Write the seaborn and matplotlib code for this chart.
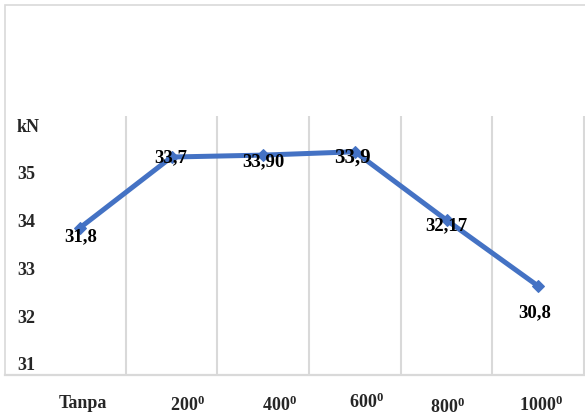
"""Line chart of load (kN) versus treatment temperature."""

import matplotlib
matplotlib.use("Agg")
import matplotlib.pyplot as plt
import matplotlib.transforms as mtransforms
from matplotlib.patches import Rectangle
import pandas as pd
import seaborn as sns

CATEGORIES = ["Tanpa", "200", "400", "600", "800", "1000"]
TICK_LABELS = ["Tanpa", "200$^{0}$", "400$^{0}$", "600$^{0}$", "800$^{0}$", "1000$^{0}$"]
LOAD_KN = [33.85, 35.33, 35.37, 35.44, 34.01, 32.63]
POINT_LABELS = ["31,8", "33,7", "33,90", "33,9", "32,17", "30,8"]
Y_TICKS = [31, 32, 33, 34, 35, 36]
Y_TICK_LABELS = ["31", "32", "33", "34", "35", "kN"]

LINE_BLUE = "#4472C4"
GRID_GREY = "#D9D9D9"
PX = 72 / 100  # points per pixel at dpi 100

# label nudges in pixels (dx right, dy down)
POINT_LABEL_NUDGE = [(1, 9), (-1, 1), (0, 7), (-2, 6), (0, 6), (-3, 27)]
POINT_LABEL_SIZE = [13.5, 13.5, 13.5, 15, 13.5, 13.5]
# tick label nudges in pixels (dx right, dy up)
TICK_NUDGE = [(3, 0), (16, 0), (16, 0), (12, 3), (1, -2), (3, 0)]

sns.set_theme(style="white")
plt.rcParams["font.family"] = ["Liberation Serif", "DejaVu Serif"]
plt.rcParams["font.weight"] = "bold"
plt.rcParams["mathtext.fontset"] = "custom"
plt.rcParams["mathtext.rm"] = "Liberation Serif:bold"
plt.rcParams["mathtext.it"] = "Liberation Serif:bold"
plt.rcParams["mathtext.bf"] = "Liberation Serif:bold"
plt.rcParams["mathtext.default"] = "rm"

df = pd.DataFrame({"treatment": CATEGORIES, "load": LOAD_KN, "label": POINT_LABELS})
df["pos"] = range(len(df))

fig = plt.figure(figsize=(5.85, 4.16), dpi=100)
fig.patch.set_facecolor("white")
ax = fig.add_axes([5 / 585, 41 / 416, 580 / 585, 259 / 416])

sns.lineplot(
    data=df,
    x="pos",
    y="load",
    color=LINE_BLUE,
    linewidth=3.6,
    marker="D",
    markersize=6,
    markeredgecolor=LINE_BLUE,
    ax=ax,
)

for (_, row), (dx, dy), fs in zip(df.iterrows(), POINT_LABEL_NUDGE, POINT_LABEL_SIZE):
    ax.annotate(
        row["label"],
        (row["pos"], row["load"]),
        xytext=(dx * PX, -dy * PX),
        textcoords="offset points",
        ha="center",
        va="center",
        fontsize=fs,
        fontweight="bold",
        color="black",
    )

unit = (584 - 80) / 5.5
ax.set_xlim(-75 / unit, 5.5 + 1 / unit)
ax.set_ylim(31 - 11 / 47.8, 36 + 9 / 47.8)

ax.set_xticks(df["pos"])
ax.set_xticklabels(TICK_LABELS, fontsize=13, fontweight="bold")
ax.set_xticks([p + 0.5 for p in df["pos"]], minor=True)
ax.tick_params(axis="x", which="both", length=0, pad=14.5)
for lbl, (dx, dy) in zip(ax.get_xticklabels(), TICK_NUDGE):
    lbl.set_transform(lbl.get_transform() + mtransforms.ScaledTranslation(dx / 100, dy / 100, fig.dpi_scale_trans))

ax.set_yticks(Y_TICKS)
ax.set_yticklabels(Y_TICK_LABELS, fontsize=13, fontweight="bold", ha="left")
ax.tick_params(axis="y", length=0, pad=-12 * PX)

ax.grid(False)
ax.grid(axis="x", which="minor", color=GRID_GREY, linewidth=1.5)
for side in ["top", "right", "left"]:
    ax.spines[side].set_visible(False)
ax.spines["bottom"].set_color(GRID_GREY)
ax.spines["bottom"].set_linewidth(1.6)
ax.set_xlabel("")
ax.set_ylabel("")

# chart frame: left and top edges, bottom on the category axis
fig.patches.append(
    Rectangle(
        (5 / 585, 41 / 416),
        1.2,
        (416 - 5 - 41) / 416,
        transform=fig.transFigure,
        fill=False,
        edgecolor=GRID_GREY,
        linewidth=1.2,
    )
)

fig.savefig("out.png", dpi=100)
